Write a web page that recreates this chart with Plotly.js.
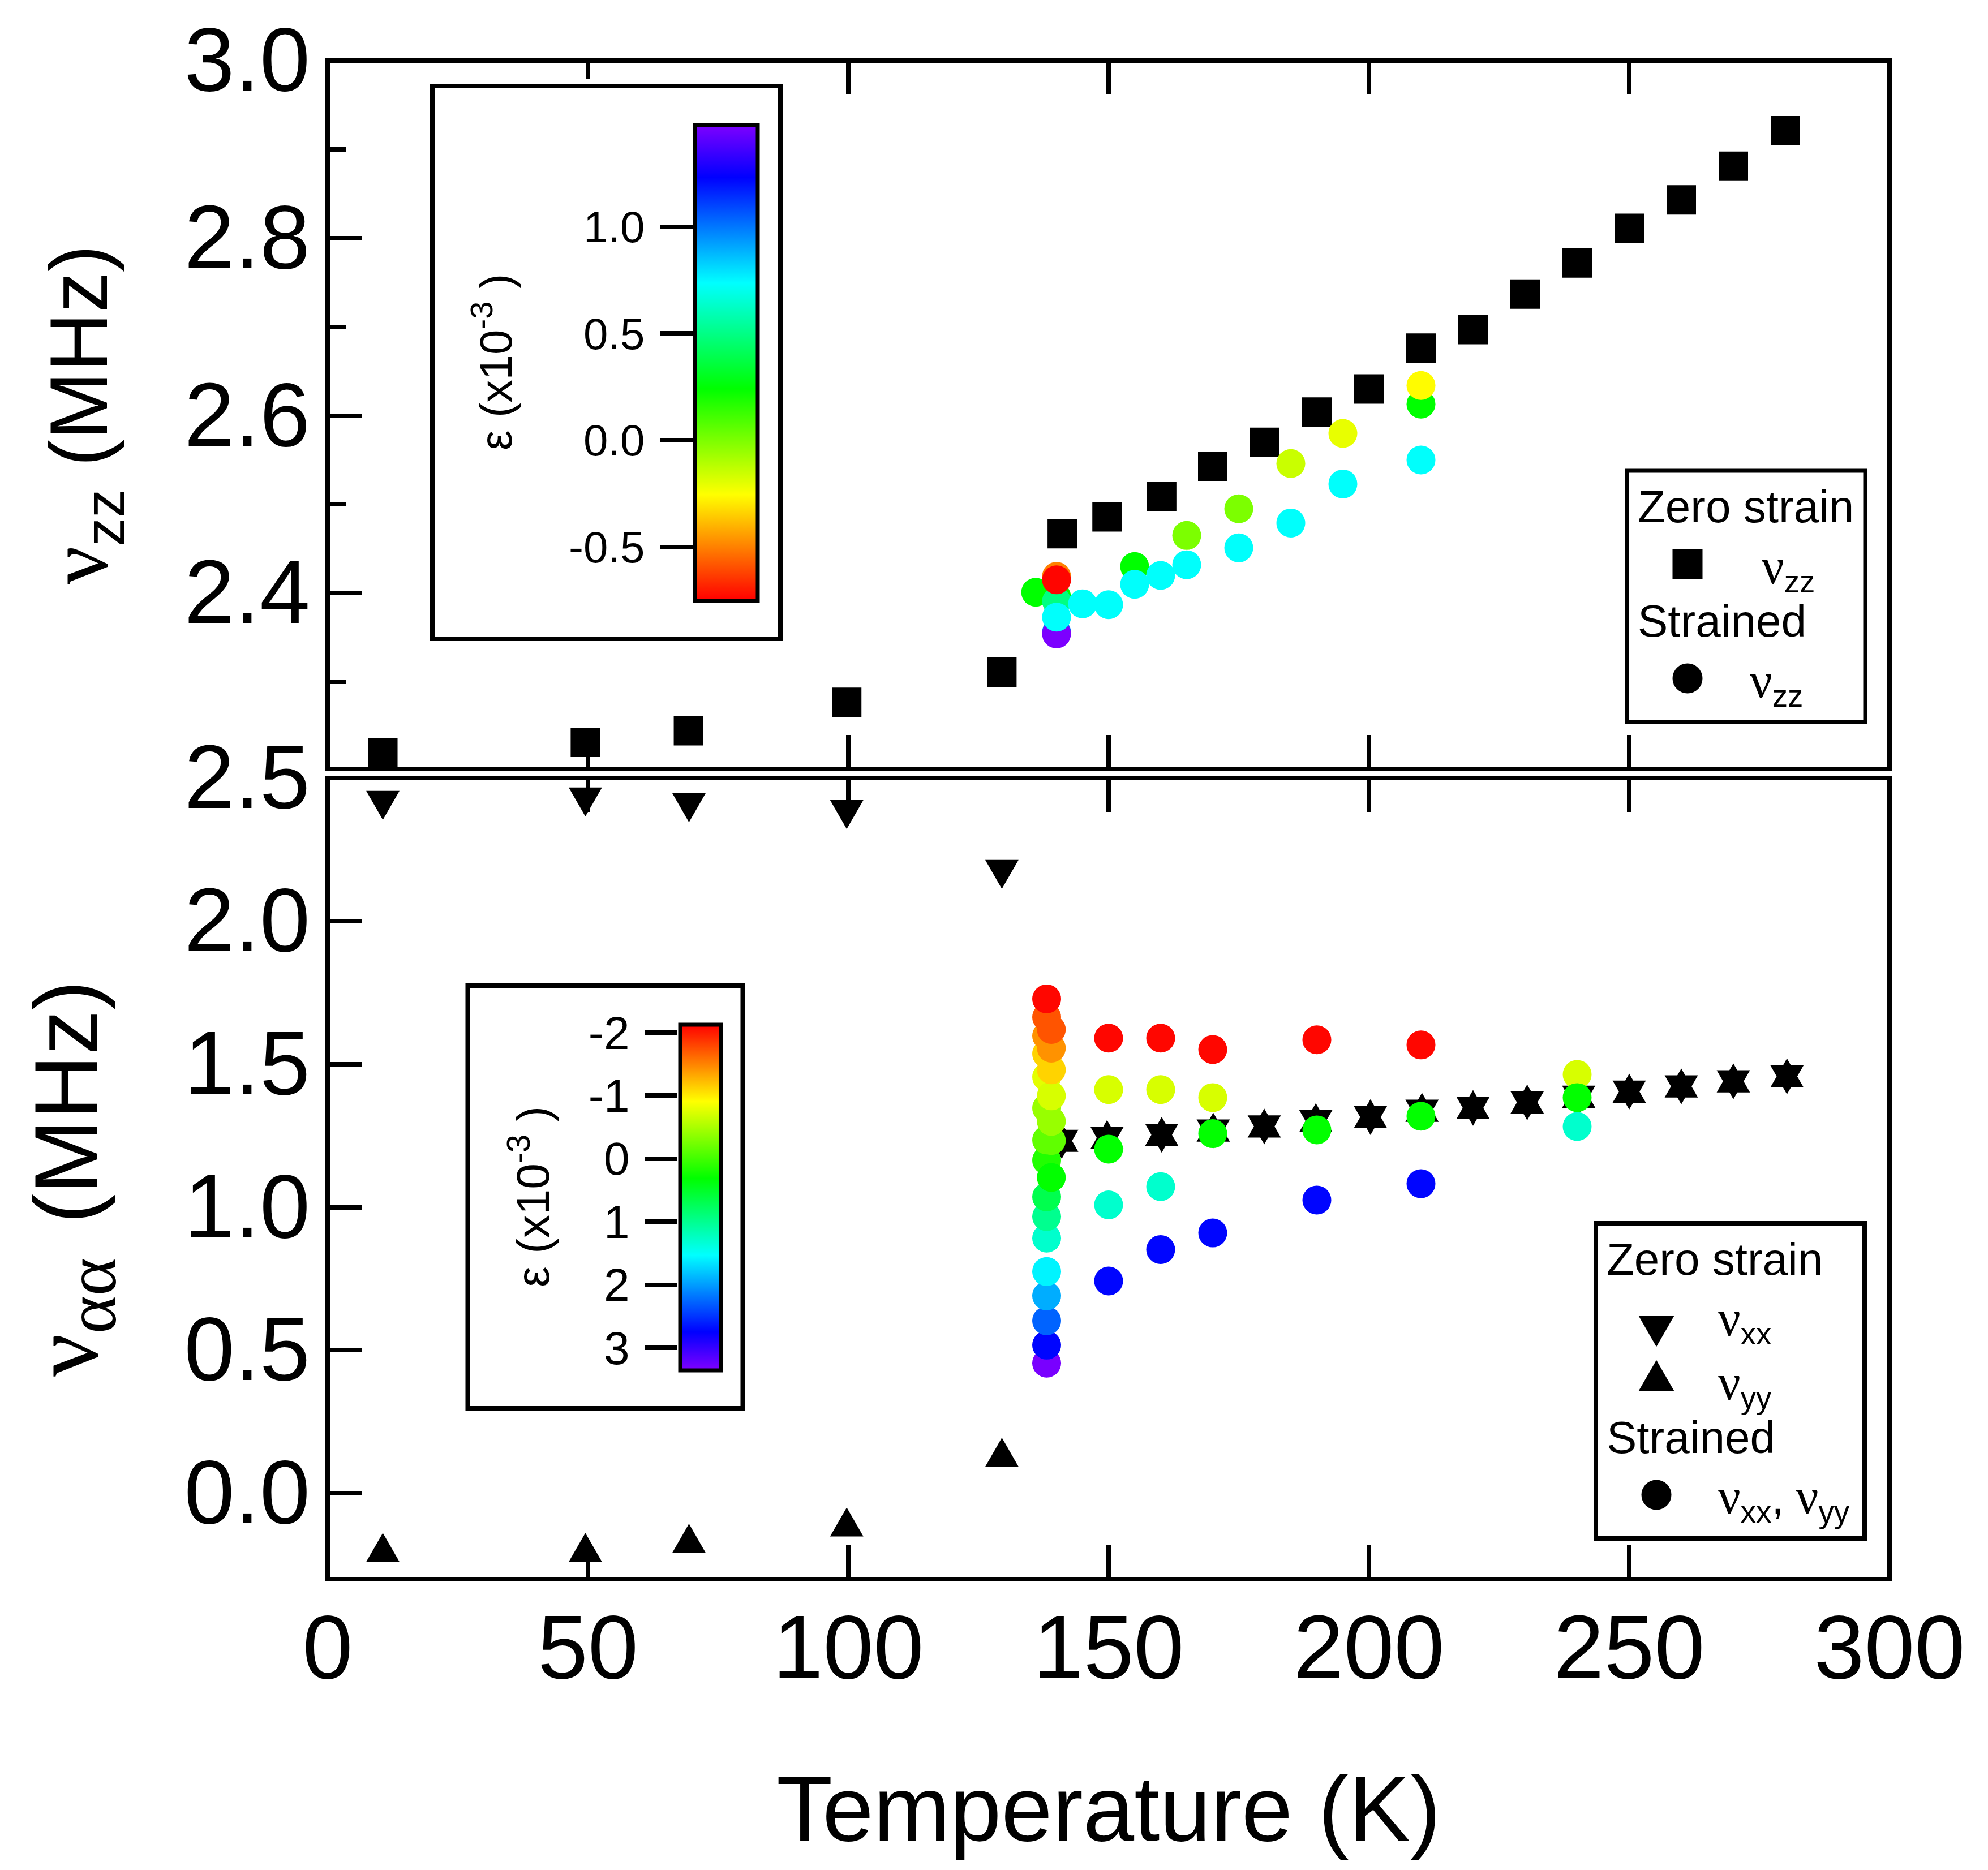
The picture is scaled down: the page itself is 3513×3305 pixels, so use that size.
<!DOCTYPE html>
<html><head><meta charset="utf-8">
<script src="https://cdn.plot.ly/plotly-3.0.1.min.js"></script>
<style>html,body{margin:0;padding:0;background:#fff}</style>
</head><body><div id="chart"></div>
<script>
// ---------- data ----------
const tempZZ = [10.6,49.5,69.3,99.7,129.5,141.1,149.7,160.2,170,180,190,200,210,220,230,240,250,260,270,280];
const nuZZ   = [2.220,2.232,2.245,2.277,2.311,2.467,2.486,2.509,2.543,2.570,2.604,2.630,2.676,2.697,2.737,2.772,2.811,2.843,2.881,2.921];

const tempStrainZZ = [136,140,140,140,140,140,140,140,145,150,155,155,160,165,165,175,175,185,185,195,195,210,210,210];
const nuStrainZZ   = [2.401,2.396,2.391,2.356,2.354,2.373,2.419,2.415,2.388,2.387,2.430,2.410,2.420,2.465,2.432,2.495,2.451,2.546,2.479,2.580,2.523,2.613,2.634,2.550];
const strainZZ     = [0.24,0.24,0.49,1.0,1.47,0.73,-0.5,-0.74,0.73,0.73,0.24,0.73,0.73,0,0.73,0,0.73,-0.15,0.73,-0.21,0.73,0.24,-0.26,0.73];

const tempAA = [10.6,49.5,69.4,99.7,129.5,141,149.7,160.2,170.1,179.9,189.8,200.3,210.2,220,230.4,240.3,250,260,270,280.3];
const nuXX   = [2.421,2.433,2.413,2.389,2.180,1.237,1.247,1.258,1.273,1.287,1.306,1.320,1.342,1.352,1.371,1.391,1.409,1.427,1.445,1.462];
const nuYY   = [-0.206,-0.206,-0.174,-0.117,0.127,1.227,1.237,1.248,1.263,1.277,1.296,1.310,1.332,1.342,1.361,1.381,1.399,1.417,1.435,1.452];

const tempStrainAA = [138.1,138.1,138.1,138.1,138.1,138.1,138.1,138.1,138.1,138.1,138.1,138.1,138.1,138.1,138.1,138.1,
                      139,139,139,139,139,139,139,
                      150,150,150,150,150, 160,160,160,160, 170,170,170,170, 190,190,190, 210,210,210, 240,240,240];
const nuStrainAA   = [0.455,0.518,0.603,0.690,0.775,0.892,0.967,1.036,1.164,1.235,1.346,1.455,1.536,1.599,1.664,1.728,
                      1.104,1.233,1.300,1.389,1.480,1.556,1.621,
                      1.591,1.411,1.203,1.008,0.742, 1.591,1.411,1.072,0.852, 1.551,1.383,1.257,0.910, 1.585,1.270,1.025, 1.567,1.318,1.082, 1.464,1.383,1.282];
const strainAA     = [3.32,2.72,2.27,1.92,1.58,1.29,0.99,0.68,0.15,-0.15,-0.42,-0.78,-1.12,-1.43,-1.73,-2.1,
                      0.3,-0.15,-0.42,-0.72,-1.12,-1.43,-1.73,
                      -2.1,-0.72,0.3,1.29,2.72, -2.1,-0.72,1.29,2.72, -2.1,-0.72,0.3,2.72, -2.1,0.3,2.72, -2.1,0.3,2.72, -0.72,0.3,1.29];

const xTicks = [0,50,100,150,200,250,300];
const yTicksZZ = [2.4,2.6,2.8,3.0];
const yMinorZZ = [2.3,2.5,2.7,2.9];
const yTicksAA = [0,0.5,1,1.5,2,2.5];
const barTicksZZ = [-0.5,0,0.5,1];
const barLabelsZZ = ["-0.5","0.0","0.5","1.0"];
const barTicksAA = [-2,-1,0,1,2,3];
const barLabelsAA = ["-2","-1","0","1","2","3"];

// ---------- page geometry ----------
const L=579,R=3339,T=107,B=2791;
const X=p=>(p-L)/(R-L), Y=p=>1-(p-T)/(B-T);
const SANS="Liberation Sans", SERIF="Liberation Serif";
const nuAt=s=>`<span style="font-family:${SERIF};font-size:${s}px">ν</span>`;
const tick={ticks:'inside',tickcolor:'#000',tickwidth:8,ticklen:60,showgrid:false,zeroline:false,showline:false};

const cbZZ=[[0,'#ff0000'],[2/9,'#ffff00'],[4/9,'#00ff00'],[6/9,'#00ffff'],[8/9,'#0000ff'],[1,'#8000ff']];
const cbAA=[[0,'#8000ff'],[1/9,'#0000ff'],[3/9,'#00ffff'],[5/9,'#00ff00'],[7/9,'#ffff00'],[1,'#ff0000']];

const sizeTri=51, sizeSq=52, sizeC=51;
function pts(x,y,xa,ya,symbol,size){
  return {x,y,xaxis:xa,yaxis:ya,type:'scatter',mode:'markers',cliponaxis:false,showlegend:false,hoverinfo:'skip',
    marker:{symbol,size,color:'#000',line:{width:0}}};
}
const anchorTicks=(ticks,xa,ya)=>({x:ticks.map(()=>0.5),y:ticks,xaxis:xa,yaxis:ya,type:'scatter',mode:'markers',showlegend:false,hoverinfo:'skip',marker:{size:1,opacity:0}});
const traces=[
  pts(tempZZ,nuZZ,'x','y','square',sizeSq),
  {x:tempStrainZZ,y:nuStrainZZ,xaxis:'x',yaxis:'y',type:'scatter',mode:'markers',cliponaxis:false,showlegend:false,hoverinfo:'skip',
   marker:{symbol:'circle',size:sizeC,color:strainZZ,coloraxis:'coloraxis',line:{width:0}}},
  pts(tempAA,nuXX,'x2','y2','triangle-down',sizeTri),
  pts(tempAA,nuYY,'x2','y2','triangle-up',sizeTri),
  {x:tempStrainAA,y:nuStrainAA,xaxis:'x2',yaxis:'y2',type:'scatter',mode:'markers',cliponaxis:false,showlegend:false,hoverinfo:'skip',
   marker:{symbol:'circle',size:sizeC,color:strainAA.map(e=>-e),coloraxis:'coloraxis2',line:{width:0}}},
  anchorTicks(barTicksZZ,'x3','y3'),
  anchorTicks(barTicksAA,'x4','y4'),
  // legend keys, on a hidden axis pair measured in page pixels
  pts([2982],[997],'x5','y5','square',sizeSq+1),
  pts([2982],[1199],'x5','y5','circle',sizeC+2),
  pts([2927],[2344],'x5','y5','triangle-down',sizeTri+3),
  pts([2927],[2440],'x5','y5','triangle-up',sizeTri+3),
  pts([2927],[2642],'x5','y5','circle',sizeC+2)
];

function ann(text,x,y,size,opt){
  return Object.assign({text,xref:'paper',yref:'paper',x:X(x),y:Y(y),xanchor:'left',yanchor:'middle',showarrow:false,borderpad:0,
    font:{family:SANS,size,color:'#000'}},opt||{});
}
const box=(x0,y0,x1,y1,w)=>({type:'rect',xref:'paper',yref:'paper',x0:X(x0),x1:X(x1),y0:Y(y0),y1:Y(y1),line:{color:'#000',width:w},layer:'above'});

const layout={
  width:3513,height:3305,margin:{l:L,r:3513-R,t:T,b:3305-B,pad:0},
  paper_bgcolor:'#fff',plot_bgcolor:'rgba(0,0,0,0)',showlegend:false,
  font:{family:SANS,color:'#000'},
  xaxis:Object.assign({},tick,{anchor:'y',domain:[0,1],range:[0,300],tickmode:'array',tickvals:xTicks,mirror:'allticks',showticklabels:false}),
  yaxis:Object.assign({},tick,{anchor:'x',domain:[Y(1359),1],range:[2.202,3],tickmode:'array',tickvals:yTicksZZ,
     ticktext:yTicksZZ.map(v=>v.toFixed(1)),tickfont:{size:160,family:SANS},ticklabelstandoff:30,ticklabelshift:-3,
     minor:{tickmode:'array',tickvals:yMinorZZ,ticks:'inside',ticklen:32,tickwidth:8,tickcolor:'#000',showgrid:false},
     title:{text:`${nuAt(150)}<sub>zz</sub> (MHz)`,font:{size:144,family:SANS},standoff:87}}),
  xaxis2:Object.assign({},tick,{anchor:'y2',domain:[0,1],range:[0,300],tickmode:'array',tickvals:xTicks,mirror:'allticks',
     tickfont:{size:160,family:SANS},ticklabelstandoff:14,
     title:{text:'Temperature (K)',font:{size:162.5,family:SANS},standoff:140}}),
  yaxis2:Object.assign({},tick,{anchor:'x2',domain:[0,Y(1375)],range:[-0.3,2.5],tickmode:'array',tickvals:yTicksAA,
     ticktext:yTicksAA.map(v=>v.toFixed(1)),tickfont:{size:160,family:SANS},ticklabelstandoff:30,ticklabelshift:-3,
     title:{text:`${nuAt(168)}<sub><span style="font-family:${SERIF};font-size:128px">αα</span></sub> <span style="font-size:60px">\u00a0</span>(MHz)\u00a0`,font:{size:158,family:SANS},standoff:100}}),
  // tick axes of the two colour bars
  xaxis3:{anchor:'y3',domain:[X(1225),X(1339)],range:[0,1],visible:false},
  yaxis3:Object.assign({},tick,{anchor:'x3',domain:[Y(1061),Y(220.5)],range:[-0.75,1.4776],side:'left',ticks:'outside',ticklen:58,
     tickmode:'array',tickvals:barTicksZZ,ticktext:barLabelsZZ,tickfont:{size:78,family:SANS},ticklabelstandoff:11}),
  xaxis4:{anchor:'y4',domain:[X(1198),X(1273)],range:[0,1],visible:false},
  yaxis4:Object.assign({},tick,{anchor:'x4',domain:[Y(2421.5),Y(1810.5)],range:[3.355,-2.13],side:'left',ticks:'outside',ticklen:57,
     tickmode:'array',tickvals:barTicksAA,ticktext:barLabelsAA,tickfont:{size:82,family:SANS},ticklabelstandoff:11}),
  xaxis5:{anchor:'y5',domain:[0,1],range:[L,R],visible:false},
  yaxis5:{anchor:'x5',domain:[0,1],range:[B,T],visible:false},
  coloraxis:{cmin:-0.75,cmax:1.4776,colorscale:cbZZ,showscale:true,
    colorbar:{x:X(1228),xanchor:'left',xpad:0,y:Y(220.5),yanchor:'top',ypad:0,lenmode:'pixels',len:840.5,thicknessmode:'pixels',thickness:111,
      outlinewidth:7,outlinecolor:'#000',borderwidth:0,ticks:'',showticklabels:false,bgcolor:'rgba(0,0,0,0)'}},
  coloraxis2:{cmin:-3.355,cmax:2.13,colorscale:cbAA,showscale:true,
    colorbar:{x:X(1201.5),xanchor:'left',xpad:0,y:Y(1810.5),yanchor:'top',ypad:0,lenmode:'pixels',len:611,thicknessmode:'pixels',thickness:71.5,
      outlinewidth:7,outlinecolor:'#000',borderwidth:0,ticks:'',showticklabels:false,bgcolor:'rgba(0,0,0,0)'}},
  shapes:[
    {type:'rect',xref:'paper',yref:'paper',x0:X(1030),x1:X(1048),y0:Y(139),y1:Y(172),line:{width:0},fillcolor:'#fff',layer:'above'},
    box(L,T,R,1359,8), box(L,1375,R,B,8),
    box(764,152,1379,1129,8), box(826.5,1742,1312.5,2489,8),
    box(2875,832,3296,1276,7), box(2820,2162,3295,2719,8)
  ],
  annotations:[
    ann('ε (x10<sup>-3</sup> )',870,640,80,{textangle:-90,xanchor:'center',yanchor:'middle'}),
    ann('ε (x10<sup>-3</sup> )',935,2115,82,{textangle:-90,xanchor:'center',yanchor:'middle'}),
    ann('Zero strain',2893,895,80),
    ann(`${nuAt(88)}<sub>zz</sub>`,3112,1006,78),
    ann('Strained',2893,1097,80),
    ann(`${nuAt(88)}<sub>zz</sub>`,3091,1208,78),
    ann('Zero strain',2838,2225,80),
    ann(`${nuAt(88)}<sub>xx</sub>`,3035,2335,78),
    ann(`${nuAt(88)}<sub>yy</sub>`,3035,2448,78),
    ann('Strained',2838,2540,80),
    ann(`${nuAt(88)}<sub>xx</sub>, ${nuAt(88)}<sub>yy</sub>`,3035,2650,78)
  ]
};

Plotly.newPlot('chart',traces,layout,{displayModeBar:false,responsive:false}).then(gd=>{
  // Plotly's triangles are flatter than the reference's near-equilateral ones
  gd.querySelectorAll('.scatterlayer .trace').forEach(g=>{
    const d=g.__data__&&g.__data__[0]&&g.__data__[0].trace;
    if(d&&d.marker&&/^triangle/.test(d.marker.symbol)){
      g.querySelectorAll('path.point').forEach(p=>p.setAttribute('transform',p.getAttribute('transform')+' scale(1,1.34)'));
    }
  });
});
</script></body></html>
